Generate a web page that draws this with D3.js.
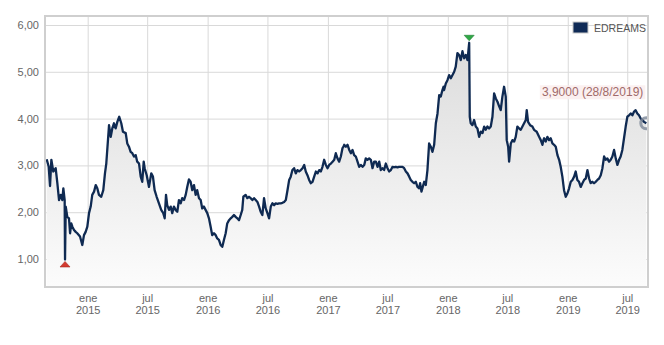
<!DOCTYPE html>
<html>
<head>
<meta charset="utf-8">
<script src="https://cdnjs.cloudflare.com/ajax/libs/d3/7.8.5/d3.min.js"></script>
<style>
  body { margin: 0; background: #fff; }
  svg { font-family: "Liberation Sans", Arial, sans-serif; }
</style>
</head>
<body>
<script>
// EDREAMS closing price, dates as decimal years
var seriesName = "EDREAMS";
var dates = [
  2014.658, 2014.675, 2014.686, 2014.697, 2014.713, 2014.733, 2014.747, 2014.761, 2014.775, 2014.788,
  2014.797, 2014.808, 2014.811, 2014.817, 2014.830, 2014.844, 2014.853, 2014.863, 2014.872, 2014.886,
  2014.900, 2014.913, 2014.936, 2014.955, 2014.969, 2014.983, 2014.997, 2015.011, 2015.025, 2015.038,
  2015.053, 2015.067, 2015.080, 2015.094, 2015.113, 2015.130, 2015.144, 2015.155, 2015.169, 2015.178,
  2015.192, 2015.205, 2015.219, 2015.233, 2015.247, 2015.263, 2015.280, 2015.294, 2015.317, 2015.330,
  2015.344, 2015.358, 2015.372, 2015.386, 2015.400, 2015.413, 2015.428, 2015.442, 2015.455, 2015.467,
  2015.475, 2015.492, 2015.511, 2015.530, 2015.544, 2015.558, 2015.575, 2015.594, 2015.613, 2015.630,
  2015.642, 2015.653, 2015.663, 2015.678, 2015.692, 2015.705, 2015.719, 2015.733, 2015.747, 2015.761,
  2015.775, 2015.788, 2015.803, 2015.817, 2015.830, 2015.844, 2015.858, 2015.872, 2015.886, 2015.900,
  2015.913, 2015.928, 2015.942, 2015.955, 2015.969, 2015.983, 2015.997, 2016.011, 2016.025, 2016.038,
  2016.053, 2016.067, 2016.080, 2016.094, 2016.108, 2016.122, 2016.136, 2016.150, 2016.163, 2016.178,
  2016.192, 2016.205, 2016.219, 2016.233, 2016.247, 2016.261, 2016.275, 2016.288, 2016.297, 2016.316,
  2016.330, 2016.344, 2016.358, 2016.372, 2016.386, 2016.400, 2016.414, 2016.428, 2016.441, 2016.455,
  2016.469, 2016.483, 2016.497, 2016.511, 2016.525, 2016.539, 2016.553, 2016.566, 2016.580, 2016.594,
  2016.608, 2016.622, 2016.636, 2016.650, 2016.664, 2016.678, 2016.691, 2016.705, 2016.719, 2016.733,
  2016.747, 2016.761, 2016.775, 2016.789, 2016.803, 2016.816, 2016.830, 2016.844, 2016.858, 2016.872,
  2016.886, 2016.900, 2016.914, 2016.928, 2016.941, 2016.955, 2016.969, 2016.983, 2016.997, 2017.011,
  2017.025, 2017.039, 2017.053, 2017.066, 2017.080, 2017.094, 2017.108, 2017.122, 2017.130, 2017.136,
  2017.150, 2017.164, 2017.178, 2017.192, 2017.205, 2017.219, 2017.233, 2017.247, 2017.261, 2017.275,
  2017.289, 2017.303, 2017.316, 2017.330, 2017.344, 2017.358, 2017.372, 2017.386, 2017.400, 2017.414,
  2017.428, 2017.441, 2017.455, 2017.469, 2017.483, 2017.497, 2017.511, 2017.525, 2017.539, 2017.553,
  2017.566, 2017.580, 2017.594, 2017.608, 2017.622, 2017.636, 2017.650, 2017.664, 2017.678, 2017.691,
  2017.705, 2017.719, 2017.733, 2017.747, 2017.761, 2017.769, 2017.780, 2017.791, 2017.803, 2017.816,
  2017.830, 2017.844, 2017.858, 2017.872, 2017.886, 2017.900, 2017.914, 2017.928, 2017.941, 2017.955,
  2017.964, 2017.969, 2017.983, 2017.997, 2018.011, 2018.025, 2018.039, 2018.053, 2018.066, 2018.080,
  2018.094, 2018.108, 2018.122, 2018.136, 2018.150, 2018.164, 2018.178, 2018.183, 2018.191, 2018.205,
  2018.219, 2018.233, 2018.247, 2018.261, 2018.275, 2018.289, 2018.303, 2018.316, 2018.330, 2018.344,
  2018.358, 2018.372, 2018.386, 2018.400, 2018.414, 2018.428, 2018.441, 2018.455, 2018.469, 2018.483,
  2018.491, 2018.503, 2018.511, 2018.525, 2018.539, 2018.553, 2018.566, 2018.580, 2018.594, 2018.608,
  2018.622, 2018.636, 2018.650, 2018.658, 2018.669, 2018.686, 2018.705, 2018.719, 2018.741, 2018.761,
  2018.775, 2018.789, 2018.797, 2018.803, 2018.816, 2018.830, 2018.844, 2018.858, 2018.872, 2018.886,
  2018.900, 2018.914, 2018.928, 2018.941, 2018.955, 2018.969, 2018.983, 2018.997, 2019.011, 2019.025,
  2019.039, 2019.053, 2019.066, 2019.080, 2019.094, 2019.108, 2019.122, 2019.136, 2019.150, 2019.164,
  2019.178, 2019.191, 2019.205, 2019.219, 2019.233, 2019.247, 2019.261, 2019.275, 2019.289, 2019.303,
  2019.316, 2019.330, 2019.344, 2019.358, 2019.372, 2019.386, 2019.400, 2019.414, 2019.428, 2019.441,
  2019.455, 2019.469, 2019.483, 2019.497, 2019.511, 2019.525, 2019.539, 2019.553, 2019.566, 2019.580,
  2019.594, 2019.608, 2019.622, 2019.636, 2019.655
];
var prices = [
  3.13, 2.97, 2.56, 3.12, 2.87, 2.94, 2.62, 2.26, 2.37, 2.26,
  2.51, 2.26, 0.99, 2.12, 1.90, 1.87, 1.55, 1.76, 1.69, 1.62,
  1.58, 1.55, 1.48, 1.30, 1.51, 1.58, 1.69, 1.98, 2.12, 2.37,
  2.44, 2.58, 2.51, 2.37, 2.33, 2.47, 2.83, 3.04, 3.54, 3.86,
  3.61, 3.79, 3.90, 3.79, 3.93, 4.04, 3.90, 3.72, 3.69, 3.47,
  3.40, 3.29, 3.26, 3.19, 3.22, 3.08, 3.04, 2.76, 2.65, 3.08,
  2.94, 2.79, 2.54, 2.83, 2.76, 2.47, 2.33, 2.19, 2.05, 1.98,
  1.87, 2.37, 2.15, 2.05, 2.12, 1.98, 2.12, 2.05, 2.01, 2.26,
  2.19, 2.30, 2.26, 2.37, 2.54, 2.70, 2.65, 2.47, 2.58, 2.37,
  2.47, 2.30, 2.26, 2.08, 2.12, 2.05, 1.98, 1.87, 1.69, 1.51,
  1.55, 1.51, 1.44, 1.41, 1.30, 1.26, 1.41, 1.55, 1.76, 1.83,
  1.87, 1.90, 1.94, 1.90, 1.87, 1.83, 1.94, 2.05, 2.33, 2.37,
  2.30, 2.33, 2.30, 2.26, 2.30, 2.26, 2.22, 2.12, 2.01, 1.94,
  2.30, 2.08, 1.98, 1.87, 2.12, 2.19, 2.15, 2.19, 2.18, 2.19,
  2.19, 2.20, 2.22, 2.26, 2.47, 2.69, 2.76, 2.90, 2.94, 2.83,
  2.90, 2.87, 2.90, 2.94, 3.01, 2.87, 2.79, 2.69, 2.62, 2.65,
  2.76, 2.87, 2.83, 2.90, 2.87, 2.97, 3.12, 3.01, 2.94, 3.01,
  3.04, 3.08, 3.12, 3.26, 3.15, 3.08, 3.19, 3.37, 3.40, 3.44,
  3.40, 3.44, 3.33, 3.26, 3.33, 3.22, 3.19, 3.08, 2.97, 3.01,
  2.97, 3.01, 3.15, 3.12, 3.15, 3.12, 2.94, 3.08, 3.08, 2.97,
  3.08, 2.90, 2.94, 2.90, 3.04, 2.94, 2.87, 2.90, 2.97, 2.96,
  2.97, 2.96, 2.97, 2.97, 2.97, 2.94, 2.87, 2.83, 2.76, 2.69,
  2.65, 2.62, 2.65, 2.54, 2.51, 2.62, 2.44, 2.54, 2.65, 2.58,
  2.90, 3.47, 3.40, 3.29, 3.44, 3.90, 4.11, 4.50, 4.47, 4.61,
  4.68, 4.61, 4.75, 4.82, 4.93, 4.86, 4.93, 5.00, 5.11, 5.40,
  5.36, 5.25, 5.44, 5.29, 5.36, 5.25, 5.62, 4.04, 3.90, 3.86,
  3.97, 3.83, 3.79, 3.61, 3.72, 3.69, 3.83, 3.76, 3.83, 3.79,
  3.83, 4.04, 4.54, 4.43, 4.36, 4.26, 4.18, 4.47, 4.68, 4.47,
  3.54, 3.40, 3.08, 3.47, 3.54, 3.51, 3.61, 3.83, 3.79, 3.76,
  3.83, 3.90, 3.97, 4.18, 3.93, 3.86, 3.83, 3.76, 3.72, 3.61,
  3.54, 3.44, 3.54, 3.58, 3.51, 3.61, 3.54, 3.58, 3.47, 3.44,
  3.40, 3.22, 3.12, 2.97, 2.76, 2.47, 2.33, 2.40, 2.51, 2.65,
  2.69, 2.76, 2.87, 2.69, 2.65, 2.54, 2.62, 2.69, 2.72, 2.90,
  2.72, 2.62, 2.65, 2.62, 2.65, 2.69, 2.72, 2.79, 2.94, 3.19,
  3.12, 3.15, 3.08, 3.12, 3.19, 3.33, 3.15, 3.01, 3.12, 3.19,
  3.33, 3.58, 3.83, 4.04, 4.07, 4.11, 4.07, 4.15, 4.18, 4.11,
  4.07, 4.00, 3.97, 3.93, 3.90
];
var yTicks = [1, 2, 3, 4, 5, 6];
var xTicks = ["2015-01", "2015-07", "2016-01", "2016-07", "2017-01",
              "2017-07", "2018-01", "2018-07", "2019-01", "2019-07"];
var monthNames = { "0": "ene", "6": "jul" };
var lastLabel = "3,9000 (28/8/2019)";

function toDate(t) {
  var yr = Math.floor(t);
  var s = Date.UTC(yr, 0, 1), e = Date.UTC(yr + 1, 0, 1);
  return new Date(s + (t - yr) * (e - s));
}

var width = 664, height = 345;
var plotLeft = 45, plotRight = 648, plotTop = 16, plotBottom = 287;

var data = dates.map(function(t, i) { return { date: toDate(t), value: prices[i] }; });
var parseMonth = d3.utcParse("%Y-%m");
var tickDates = xTicks.map(parseMonth);

var x = d3.scaleUtc()
          .domain([toDate(2014.644), toDate(2019.669)])
          .range([plotLeft, plotRight]);
var y = d3.scaleLinear()
          .domain([0.402, 6.192])
          .range([plotBottom, plotTop]);

var svg = d3.select("body").append("svg")
            .attr("width", width)
            .attr("height", height);

var defs = svg.append("defs");
defs.append("clipPath").attr("id", "plotClip")
    .append("rect")
    .attr("x", plotLeft).attr("y", plotTop)
    .attr("width", plotRight - plotLeft).attr("height", plotBottom - plotTop);
var grad = defs.append("linearGradient").attr("id", "areaFill")
    .attr("gradientUnits", "userSpaceOnUse")
    .attr("x1", 0).attr("y1", plotTop).attr("x2", 0).attr("y2", plotBottom);
grad.append("stop").attr("offset", "0%").attr("stop-color", "#d8d8d8");
grad.append("stop").attr("offset", "100%").attr("stop-color", "#fcfcfc");

// grid
var gridY = svg.append("g")
    .attr("transform", "translate(" + plotLeft + ",0)")
    .call(d3.axisLeft(y).tickValues(yTicks).tickSize(-(plotRight - plotLeft)).tickFormat(""));
gridY.select(".domain").remove();
gridY.selectAll("line").attr("stroke", "#d9d9d9");

var gridX = svg.append("g")
    .attr("transform", "translate(0," + plotBottom + ")")
    .call(d3.axisBottom(x).tickValues(tickDates).tickSize(-(plotBottom - plotTop)).tickFormat(""));
gridX.select(".domain").remove();
gridX.selectAll("line").attr("stroke", "#d9d9d9");

// area + line
var plot = svg.append("g").attr("clip-path", "url(#plotClip)");

plot.append("path")
    .datum(data)
    .attr("fill", "url(#areaFill)")
    .attr("d", d3.area()
        .x(function(d) { return x(d.date); })
        .y0(plotBottom)
        .y1(function(d) { return y(d.value); }));

plot.append("path")
    .datum(data)
    .attr("fill", "none")
    .attr("stroke", "#0f2a52")
    .attr("stroke-width", 2.3)
    .attr("stroke-linejoin", "round")
    .attr("d", d3.line()
        .x(function(d) { return x(d.date); })
        .y(function(d) { return y(d.value); }));

// last point halo
var last = data[data.length - 1];
plot.append("circle")
    .attr("cx", x(last.date))
    .attr("cy", y(last.value))
    .attr("r", 5.5)
    .attr("fill", "none")
    .attr("stroke", "#7d8898")
    .attr("stroke-opacity", 0.8)
    .attr("stroke-width", 3);

// min / max markers
var minD = data[d3.minIndex(data, function(d) { return d.value; })];
var maxD = data[d3.maxIndex(data, function(d) { return d.value; })];
svg.append("path")
    .attr("transform", "translate(" + x(minD.date) + "," + (y(minD.value) + 2) + ")")
    .attr("d", "M0,0L5,5.5L-5,5.5Z")
    .attr("fill", "#d43a2f")
    .attr("stroke", "#a52a20")
    .attr("stroke-width", 0.6);
svg.append("path")
    .attr("transform", "translate(" + x(maxD.date) + "," + (y(maxD.value) - 2) + ")")
    .attr("d", "M0,0L5,-5.5L-5,-5.5Z")
    .attr("fill", "#2fa845")
    .attr("stroke", "#1f7d32")
    .attr("stroke-width", 0.6);

// frame
svg.append("rect")
    .attr("x", plotLeft).attr("y", plotTop)
    .attr("width", plotRight - plotLeft).attr("height", plotBottom - plotTop)
    .attr("fill", "none")
    .attr("stroke", "#cfcfcf")
    .attr("stroke-width", 2);

// y axis labels
var yAxis = svg.append("g")
    .attr("transform", "translate(" + plotLeft + ",0)")
    .call(d3.axisLeft(y).tickValues(yTicks).tickSize(0).tickPadding(6)
        .tickFormat(function(d) { return d3.format(".2f")(d).replace(".", ","); }));
yAxis.select(".domain").remove();
yAxis.selectAll("text").attr("fill", "#666").style("font-size", "11px");

// x axis labels (month / year)
var xAxis = svg.append("g")
    .attr("transform", "translate(0," + plotBottom + ")")
    .call(d3.axisBottom(x).tickValues(tickDates).tickSize(0).tickFormat(""));
xAxis.select(".domain").remove();
xAxis.selectAll(".tick text").each(function(d) {
  var t = d3.select(this).attr("y", null).attr("dy", null)
            .attr("fill", "#666").style("font-size", "11px");
  t.append("tspan").attr("x", 0).attr("y", 15).text(monthNames[d.getUTCMonth()]);
  t.append("tspan").attr("x", 0).attr("y", 27).text(d.getUTCFullYear());
});

// legend
var legend = svg.append("g").attr("transform", "translate(573,22)");
legend.append("rect")
    .attr("width", 15).attr("height", 11)
    .attr("fill", "#0f2a56")
    .attr("stroke", "#c8c8c8")
    .attr("stroke-width", 1);
legend.append("text")
    .attr("x", 21).attr("y", 9.5)
    .attr("fill", "#555")
    .style("font-size", "10.5px")
    .text(seriesName);

// last value label
var lbl = svg.append("g");
var lblText = lbl.append("text")
    .attr("x", x(last.date) - 3)
    .attr("y", y(last.value) - 27)
    .attr("text-anchor", "end")
    .attr("fill", "#a06a6a")
    .style("font-size", "12px")
    .text(lastLabel);
var bb = lblText.node().getBBox();
lbl.insert("rect", "text")
    .attr("x", bb.x - 2).attr("y", bb.y)
    .attr("width", bb.width + 4).attr("height", bb.height)
    .attr("fill", "#fbeeee")
    .attr("opacity", 0.9);
</script>
</body>
</html>
